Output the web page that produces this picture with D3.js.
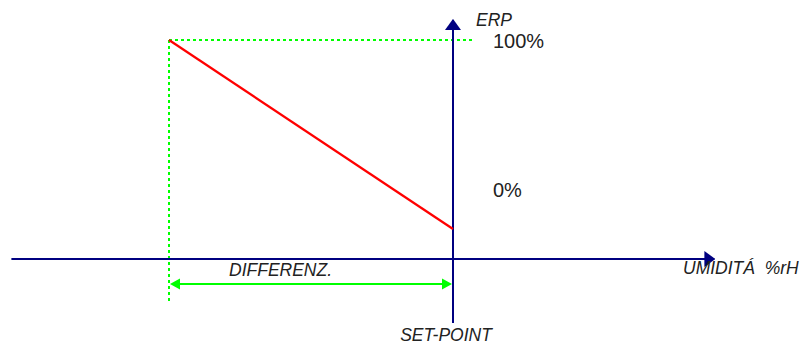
<!DOCTYPE html>
<html>
<head>
<meta charset="utf-8">
<script src="https://cdn.jsdelivr.net/npm/d3@7"></script>
<style>
  body { margin: 0; background: #fff; }
  text { font-family: "Liberation Sans", Arial, sans-serif; fill: #222; }
  .lbl { font-style: italic; font-size: 17.5px; }
  .pct { font-size: 20px; }
</style>
</head>
<body>
<div id="chart"></div>
<script>
var svgWidth = 803;
var svgHeight = 344;

// humidity axis: set-point at 0, differential 10 %rH
var setPoint = 0;
var differential = 10;
var humDomain = [-15.55, 9.2];     // visible extent of the x axis
var erpDomain = [0, 100];          // ERP output %
var curveHum = [setPoint - differential, setPoint];
var curveErp = [100, 0];
var pctTicks = ["100%", "0%"];

var svg = d3.select("#chart")
  .append("svg")
  .attr("width", svgWidth)
  .attr("height", svgHeight);

var x = d3.scaleLinear().domain([setPoint - differential, setPoint]).range([169, 453]);
var y = d3.scaleLinear().domain(erpDomain).range([229, 40]);
var axisY = 259;   // baseline of humidity axis
var diffY = 284;   // differential arrow

var defs = svg.append("defs");
// navy arrow heads for the axes
defs.append("marker")
  .attr("id", "navyArrow")
  .attr("viewBox", "0 0 10 10")
  .attr("refX", 9).attr("refY", 5)
  .attr("markerWidth", 11).attr("markerHeight", 16)
  .attr("markerUnits", "userSpaceOnUse")
  .attr("orient", "auto")
  .attr("preserveAspectRatio", "none")
  .append("path").attr("d", "M0,0 L10,5 L0,10 Z").attr("fill", "#000080");

// green dotted guides
svg.append("line")
  .attr("x1", x(curveHum[0])).attr("y1", y(100))
  .attr("x2", x(setPoint) + 19).attr("y2", y(100))
  .attr("stroke", "#00ff00").attr("stroke-width", 2)
  .attr("stroke-dasharray", "3,3");

svg.append("line")
  .attr("x1", x(curveHum[0])).attr("y1", y(100))
  .attr("x2", x(curveHum[0])).attr("y2", 304)
  .attr("stroke", "#00ff00").attr("stroke-width", 2)
  .attr("stroke-dasharray", "3,3");

// humidity axis
svg.append("line")
  .attr("x1", x(humDomain[0])).attr("y1", axisY)
  .attr("x2", x(humDomain[1])).attr("y2", axisY)
  .attr("stroke", "#000080").attr("stroke-width", 2)
  .attr("marker-end", "url(#navyArrow)");

// ERP axis at set-point
svg.append("line")
  .attr("x1", x(setPoint)).attr("y1", 323)
  .attr("x2", x(setPoint)).attr("y2", 20)
  .attr("stroke", "#000080").attr("stroke-width", 2)
  .attr("marker-end", "url(#navyArrow)");

// ERP response line
var line = d3.line()
  .x(function(d, i) { return x(curveHum[i]); })
  .y(function(d) { return y(d); });

svg.append("path")
  .datum(curveErp)
  .attr("d", line)
  .attr("fill", "none")
  .attr("stroke", "#ff0000")
  .attr("stroke-width", 2.2);

// differential arrow
var xa = x(curveHum[0]) + 1, xb = x(setPoint) - 1;
svg.append("line")
  .attr("x1", xa + 8).attr("y1", diffY)
  .attr("x2", xb - 8).attr("y2", diffY)
  .attr("stroke", "#00ff00").attr("stroke-width", 2.2);

svg.append("path")
  .attr("d", `M${xa},${diffY} L${xa + 10},${diffY - 5.5} L${xa + 10},${diffY + 5.5} Z`)
  .attr("fill", "#00ff00");
svg.append("path")
  .attr("d", `M${xb},${diffY} L${xb - 10},${diffY - 5.5} L${xb - 10},${diffY + 5.5} Z`)
  .attr("fill", "#00ff00");

// labels
svg.append("text").attr("class", "lbl")
  .attr("x", x(setPoint) + 23).attr("y", 26).text("ERP");

svg.append("text").attr("class", "pct")
  .attr("x", x(setPoint) + 40).attr("y", y(100) + 8).text(pctTicks[0]);

svg.append("text").attr("class", "pct")
  .attr("x", x(setPoint) + 40).attr("y", 197).text(pctTicks[1]);

svg.append("text").attr("class", "lbl")
  .attr("x", 229).attr("y", 276).text("DIFFERENZ.");

svg.append("text").attr("class", "lbl")
  .attr("x", 683).attr("y", 274)
  .style("white-space", "pre").text("UMIDITÁ  %rH");

svg.append("text").attr("class", "lbl")
  .attr("x", x(setPoint) - 7).attr("y", 341)
  .attr("text-anchor", "middle").text("SET-POINT");
</script>
</body>
</html>
